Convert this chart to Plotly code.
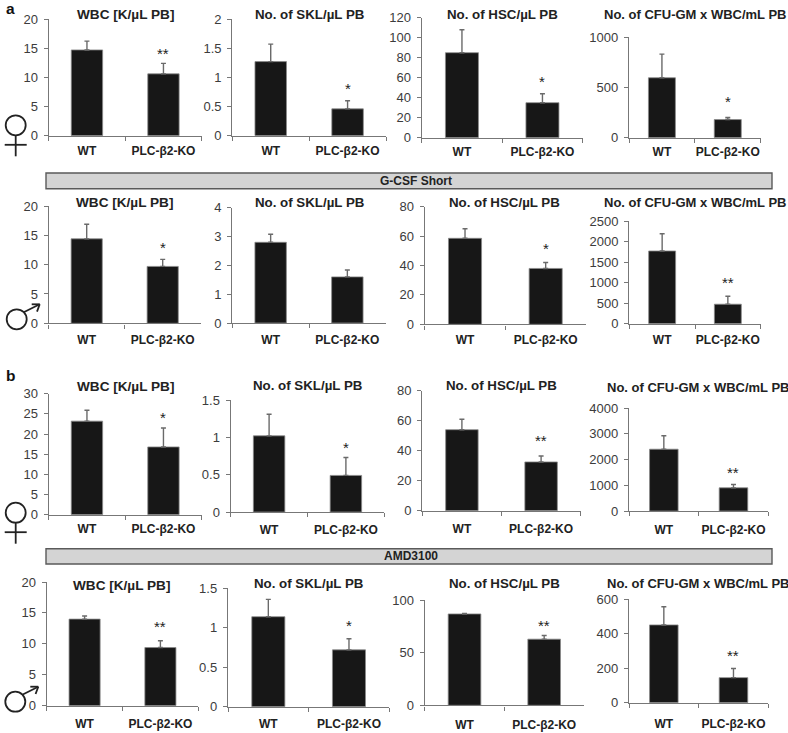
import plotly.graph_objects as go

W, H = 788, 733
categories = ["WT", "PLC-β2-KO"]
titles = ["WBC [K/µL PB]", "No. of SKL/µL PB", "No. of HSC/µL PB", "No. of CFU-GM x WBC/mL PB"]
title_sizes = [13.6, 13.3, 13.3, 13]

# values: [WT, KO] for each of the four measures
a_female_values = [[14.7, 10.6], [1.27, 0.46], [85, 35], [595, 180]]
a_female_errors = [[1.5, 1.8], [0.30, 0.14], [23, 9], [235, 20]]
a_female_stars = ["**", "*", "*", "*"]
a_female_star_y = [14.4, 0.85, 58.7, 381]
a_female_ymax = [20, 2, 120, 1000]
a_female_dtick = [5, 0.5, 20, 500]

a_male_values = [[14.4, 9.7], [2.8, 1.6], [58.5, 38], [1770, 475]]
a_male_errors = [[2.5, 1.2], [0.28, 0.24], [6.5, 4], [420, 195]]
a_male_stars = ["*", "", "*", "**"]
a_male_star_y = [13.2, 0, 52.8, 1063]
a_male_ymax = [20, 4, 80, 2500]
a_male_dtick = [5, 1, 20, 500]

b_female_values = [[23.2, 16.8], [1.02, 0.49], [54, 32.5], [2400, 900]]
b_female_errors = [[2.7, 4.7], [0.29, 0.24], [7, 4], [520, 130]]
b_female_stars = ["*", "*", "**", "**"]
b_female_star_y = [24.5, 0.89, 47.8, 1592]
b_female_ymax = [30, 1.5, 80, 4000]
b_female_dtick = [5, 0.5, 20, 1000]

b_male_values = [[14.0, 9.4], [1.14, 0.72], [87, 63], [450, 145]]
b_male_errors = [[0.5, 1.1], [0.22, 0.14], [0.5, 3.5], [105, 53]]
b_male_stars = ["**", "*", "**", "**"]
b_male_star_y = [13.15, 1.05, 78, 282]
b_male_ymax = [20, 1.5, 100, 600]
b_male_dtick = [5, 0.5, 50, 200]

# panel frames in page pixels: left, right, bottom (zero line), top (axis maximum)
a_female_frames = [(48.7, 201.7, 135.7, 19), (232.3, 386, 135.7, 19), (421.7, 582.7, 137.7, 17.7), (629, 760.7, 137.7, 37)]
a_male_frames = [(48.7, 200.7, 323.3, 206), (232.3, 385.7, 323, 207.7), (424.7, 586, 324.3, 206.7), (629.3, 760.7, 323.7, 221)]
b_female_frames = [(48.7, 201.7, 514.7, 393.7), (230.7, 384.3, 512, 400), (422.3, 580.7, 510.7, 390.7), (629, 768.3, 511, 408)]
b_male_frames = [(46.7, 198.3, 705.7, 582), (228, 389.3, 706.7, 588.3), (424.7, 584, 705.3, 600.3), (629, 768.3, 702.7, 599)]

# title centres in page pixels
a_female_title_xy = [(125, 15), (309, 15), (502, 15), (695, 15)]
a_male_title_xy = [(124, 202), (309, 202), (505, 202), (695, 202)]
b_female_title_xy = [(125, 386.7), (307, 385), (501, 385), (698, 387.7)]
b_male_title_xy = [(121.7, 585), (308, 583), (504, 583), (698, 583)]

# distance in pixels from the axis line to the centre of the category labels
a_female_label_gap = [15, 15, 13.3, 13.3]
a_male_label_gap = [15.4, 15.4, 15, 15.6]
b_female_label_gap = [13.6, 16.3, 17.6, 17.3]
b_male_label_gap = [17.3, 16.3, 18, 20.6]

rows = [
    (a_female_values, a_female_errors, a_female_stars, a_female_star_y, a_female_ymax, a_female_dtick, a_female_frames, a_female_title_xy, a_female_label_gap),
    (a_male_values, a_male_errors, a_male_stars, a_male_star_y, a_male_ymax, a_male_dtick, a_male_frames, a_male_title_xy, a_male_label_gap),
    (b_female_values, b_female_errors, b_female_stars, b_female_star_y, b_female_ymax, b_female_dtick, b_female_frames, b_female_title_xy, b_female_label_gap),
    (b_male_values, b_male_errors, b_male_stars, b_male_star_y, b_male_ymax, b_male_dtick, b_male_frames, b_male_title_xy, b_male_label_gap),
]

FONT = "Liberation Sans, Arial, sans-serif"
AXIS = "#777777"
fx = lambda p: p / W
fy = lambda p: 1 - p / H

fig = go.Figure()
annotations, shapes, layout_axes = [], [], {}
n = 0
for values, errors, stars, star_y, ymax, dtick, frames, title_xy, label_gap in rows:
    for i in range(4):
        n += 1
        xa, ya = f"x{n}", f"y{n}"
        left, right, bottom, top = frames[i]
        fig.add_trace(go.Bar(
            x=categories, y=values[i], xaxis=xa, yaxis=ya, width=0.41, showlegend=False,
            marker=dict(color="#171717", line=dict(color="#8a8a8a", width=0.8)),
            error_y=dict(type="data", symmetric=False, array=errors[i], arrayminus=[0, 0],
                         color="#6a6a6a", thickness=1.4, width=2.5),
        ))
        layout_axes[f"xaxis{n}"] = dict(
            domain=[fx(left), fx(right)], anchor=ya, type="category", range=[-0.5, 1.5],
            tickson="boundaries", ticks="outside", ticklen=4, tickwidth=1, tickcolor=AXIS,
            showline=True, linecolor=AXIS, linewidth=1.4, showgrid=False, zeroline=False,
            automargin=False, tickangle=0, fixedrange=True,
            ticklabelstandoff=round(label_gap[i] - 10.5),
            tickfont=dict(family=FONT, size=12, color="#222222", weight="bold"),
        )
        layout_axes[f"yaxis{n}"] = dict(
            domain=[fy(bottom), fy(top)], anchor=xa, range=[0, ymax[i]], dtick=dtick[i], tick0=0,
            ticks="outside", ticklen=4, tickwidth=1, tickcolor=AXIS,
            showline=True, linecolor=AXIS, linewidth=1.4, showgrid=False, zeroline=False,
            automargin=False, fixedrange=True, ticklabelstandoff=3,
            tickfont=dict(family=FONT, size=13, color="#3c3c3c"),
        )
        annotations.append(dict(
            text=f"<b>{titles[i]}</b>", x=fx(title_xy[i][0]), y=fy(title_xy[i][1]),
            xref="paper", yref="paper", showarrow=False, xanchor="center", yanchor="middle",
            font=dict(family=FONT, size=title_sizes[i], color="#222222"),
        ))
        if stars[i]:
            annotations.append(dict(
                text=stars[i], x=1, y=star_y[i], xref=xa, yref=ya, showarrow=False,
                xanchor="center", yanchor="middle", yshift=-2,
                font=dict(family=FONT, size=15, color="#222222"),
            ))

# treatment banners
for label, cx, y0, y1 in [("G-CSF Short", 416, 173, 188.7), ("AMD3100", 411, 548.7, 564)]:
    shapes.append(dict(type="rect", xref="paper", yref="paper", x0=fx(46), x1=fx(772), y0=fy(y1), y1=fy(y0),
                       fillcolor="#d4d4d4", line=dict(color="#5a5a5a", width=1.4)))
    annotations.append(dict(text=f"<b>{label}</b>", x=fx(cx), y=fy((y0 + y1) / 2), xref="paper", yref="paper",
                            xanchor="center", yanchor="middle", showarrow=False,
                            font=dict(family=FONT, size=12, color="#222222")))

# panel letters
for label, x, y in [("a", 10.5, 9), ("b", 10.5, 375)]:
    annotations.append(dict(text=f"<b>{label}</b>", x=fx(x), y=fy(y), xref="paper", yref="paper",
                            xanchor="center", yanchor="middle", showarrow=False,
                            font=dict(family=FONT, size=15.5, color="#111111")))

SYM = dict(color="#222222", width=1.8)

def line(x0, y0, x1, y1):
    shapes.append(dict(type="line", xref="paper", yref="paper", x0=fx(x0), x1=fx(x1), y0=fy(y0), y1=fy(y1), line=SYM))

def circle(cx, cy, r):
    shapes.append(dict(type="circle", xref="paper", yref="paper", x0=fx(cx - r), x1=fx(cx + r),
                       y0=fy(cy + r), y1=fy(cy - r), line=SYM))

def female(cx, cy):
    circle(cx, cy, 10)
    line(cx, cy + 10, cx, cy + 31)
    line(cx - 11, cy + 19.5, cx + 11, cy + 19.5)

def male(cx, cy):
    circle(cx, cy, 10)
    tipx, tipy = cx + 23, cy - 15
    line(cx + 7, cy - 7, tipx, tipy)
    line(tipx - 8, tipy, tipx, tipy)
    line(tipx, tipy, tipx - 2.7, tipy + 7.3)

female(15.7, 125.3)
male(16.7, 319.3)
female(15.7, 512.7)
male(15.3, 701.7)

fig.update_layout(
    width=W, height=H, margin=dict(l=0, r=0, t=0, b=0), paper_bgcolor="white", plot_bgcolor="white",
    annotations=annotations, shapes=shapes, bargap=0.6, **layout_axes,
)
fig.write_html("out.html", config=dict(displayModeBar=False),
               post_script="document.body.style.margin='0';document.body.style.overflow='hidden';")
